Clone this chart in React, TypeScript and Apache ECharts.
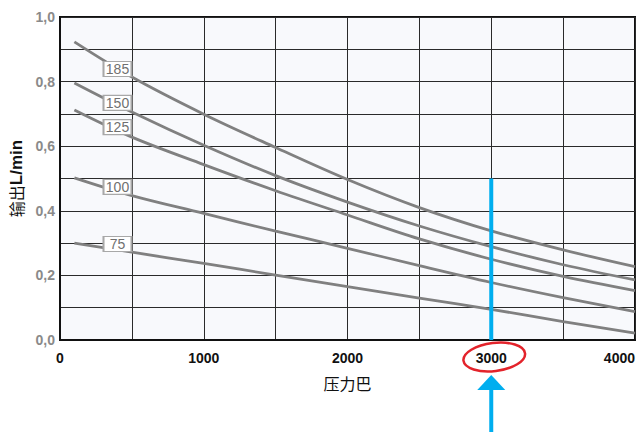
import React, { useEffect, useRef } from "react";
import * as echarts from "echarts";

const pressure = [100, 500, 1000, 1500, 2000, 2500, 3000, 3500, 4000];
const flow185 = [0.923, 0.814, 0.699, 0.596, 0.497, 0.41, 0.338, 0.279, 0.227];
const flow150 = [0.796, 0.706, 0.603, 0.509, 0.427, 0.353, 0.289, 0.233, 0.186];
const flow125 = [0.712, 0.628, 0.543, 0.462, 0.387, 0.313, 0.25, 0.197, 0.153];
const flow100 = [0.502, 0.447, 0.392, 0.337, 0.284, 0.23, 0.178, 0.131, 0.088];
const flow75 = [0.3, 0.272, 0.237, 0.201, 0.165, 0.13, 0.095, 0.057, 0.021];
const curveNames = ["185", "150", "125", "100", "75"];
const curveValues = [flow185, flow150, flow125, flow100, flow75];
const labelX = 400;
const labelY = [0.839, 0.734, 0.659, 0.474, 0.297];
const markerX = 3000;
const markerTop = 0.5;

const FONT = "'Liberation Sans', Arial, 'Noto Sans CJK SC', sans-serif";

export default function App() {
  const ref = useRef<HTMLDivElement>(null);
  useEffect(() => {
    if (!ref.current) return;
    const chart = echarts.init(ref.current, null, { renderer: "svg" });
    const curves = curveValues.map((vals, i) => ({
      type: "line",
      name: curveNames[i],
      data: pressure.map((p, j) => [p, vals[j]]),
      smooth: 0.35,
      symbol: "none",
      silent: true,
      lineStyle: { color: "#808080", width: 2.8 },
      z: 3,
      markPoint: {
        symbol: "rect",
        symbolSize: [28, 15],
        silent: true,
        itemStyle: { color: "#ffffff", borderColor: "#a8a8a8", borderWidth: 1.5 },
        label: {
          show: true,
          position: "inside",
          formatter: "{b}",
          color: "#707070",
          fontSize: 14,
          fontFamily: FONT,
        },
        data: [{ name: curveNames[i], coord: [labelX, labelY[i]] }],
      },
    }));
    chart.setOption({
      animation: false,
      textStyle: { fontFamily: FONT },
      grid: {
        left: 60,
        right: 4,
        top: 17,
        bottom: 92,
        outerBoundsMode: "none",
        containLabel: false,
        show: true,
        backgroundColor: "#f8f9fc",
        borderColor: "#111111",
        borderWidth: 2,
      },
      xAxis: {
        type: "value",
        min: 0,
        max: 4000,
        interval: 500,
        name: "压力巴",
        nameLocation: "middle",
        nameGap: 35,
        nameTextStyle: { fontSize: 16, color: "#111", fontFamily: "'Noto Sans CJK SC', sans-serif" },
        axisLine: { show: true, lineStyle: { color: "#111", width: 2 } },
        axisTick: { show: false },
        axisLabel: {
          margin: 11,
          color: "#111",
          fontWeight: "bold",
          fontSize: 14,
          alignMaxLabel: "right",
          formatter: (v: number) => (v % 1000 === 0 ? String(v) : ""),
        },
        splitLine: { show: true, lineStyle: { color: "#2a2a2a", width: 1 } },
      },
      yAxis: {
        type: "value",
        min: 0,
        max: 1,
        interval: 0.1,
        name: "{a|输出}{b|L/min}",
        nameLocation: "middle",
        nameGap: 33,
        nameTextStyle: {
          rich: {
            a: { fontSize: 16, color: "#111", fontFamily: "'Noto Sans CJK SC', sans-serif" },
            b: { fontSize: 17, color: "#111", fontWeight: "bold", fontFamily: FONT },
          },
        },
        axisLine: { show: true, lineStyle: { color: "#111", width: 2 } },
        axisTick: { show: false },
        axisLabel: {
          margin: 5,
          color: "#8a8a8a",
          fontWeight: "bold",
          fontSize: 14,
          formatter: (v: number) =>
            Math.round(v * 10) % 2 === 0 ? v.toFixed(1).replace(".", ",") : "",
        },
        splitLine: { show: true, lineStyle: { color: "#2a2a2a", width: 1 } },
      },
      series: [
        ...curves,
        {
          type: "line",
          data: [
            [markerX, 0],
            [markerX, markerTop],
          ],
          symbol: "none",
          silent: true,
          lineStyle: { color: "#00aeef", width: 4 },
          z: 5,
        },
      ],
    });
    const p = chart.convertToPixel({ gridIndex: 0 }, [markerX, 0]) as number[];
    const px = p[0];
    const py = p[1];
    chart.setOption({
      graphic: [
        {
          type: "ellipse",
          x: px + 3,
          y: py + 17,
          rotation: 0.12,
          shape: { cx: 0, cy: 0, rx: 31, ry: 14 },
          style: { fill: "none", stroke: "#e3232b", lineWidth: 2.5 },
          z: 10,
        },
        {
          type: "polygon",
          shape: {
            points: [
              [px - 14, py + 50],
              [px + 14, py + 50],
              [px, py + 35],
            ],
          },
          style: { fill: "#00aeef" },
          z: 10,
        },
        {
          type: "rect",
          shape: { x: px - 2, y: py + 49, width: 4, height: 60 },
          style: { fill: "#00aeef" },
          z: 10,
        },
      ],
    });
    return () => chart.dispose();
  }, []);
  return <div ref={ref} style={{ width: 639, height: 432, position: "absolute", left: 0, top: 0 }} />;
}
